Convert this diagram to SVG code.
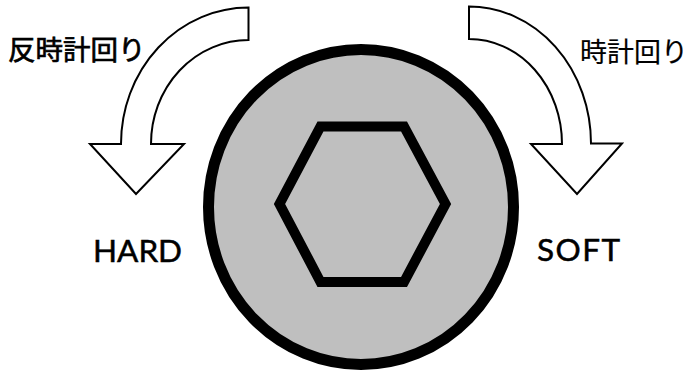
<svg xmlns="http://www.w3.org/2000/svg" width="689" height="374" viewBox="0 0 689 374">
<style>
.a{fill:#fff;stroke:#000;stroke-width:2;stroke-linejoin:miter}
.t{font-family:"Lato","Noto Sans CJK JP",sans-serif;font-size:31.500px;fill:#000;stroke:#000;stroke-width:.5}
.j{font-family:"Noto Sans CJK JP",sans-serif;fill:#000}
</style>
<rect width="689" height="374" fill="#fff"/>
<g id="bolt">
<ellipse cx="361" cy="207" rx="152.500" ry="157.500" fill="#bfbfbf" stroke="#000" stroke-width="11"/>
<polygon points="320.500,126.500 404,126.500 445.500,204 404,282 320.500,282 279.500,204" fill="none" stroke="#000" stroke-width="10"/>
</g>
<g id="arrow-ccw"><path class="a" d="M248.500 7.500V40A97.500 104 0 0 0 151 144H184L136 194L90 144H121A127.500 136.500 0 0 1 248.500 7.500Z"/></g>
<g id="arrow-cw"><path class="a" d="M469 6.500V39A93 105 0 0 1 562 144H531L577 194L622 143.500H591A122 137 0 0 0 469 6.500Z"/></g>
<g id="label-ccw"><text class="j" x="8" y="60" stroke="#000" stroke-width=".7" style="font-size:27.500px">反時計回り</text></g>
<g id="label-cw"><text class="j" x="580" y="62" stroke="#000" stroke-width=".2" style="font-size:27px">時計回り</text></g>
<g id="label-hard"><text class="t" x="93" y="262">HARD</text></g>
<g id="label-soft"><text class="t" x="537" y="261" letter-spacing="1.500">SOFT</text></g>
</svg>
